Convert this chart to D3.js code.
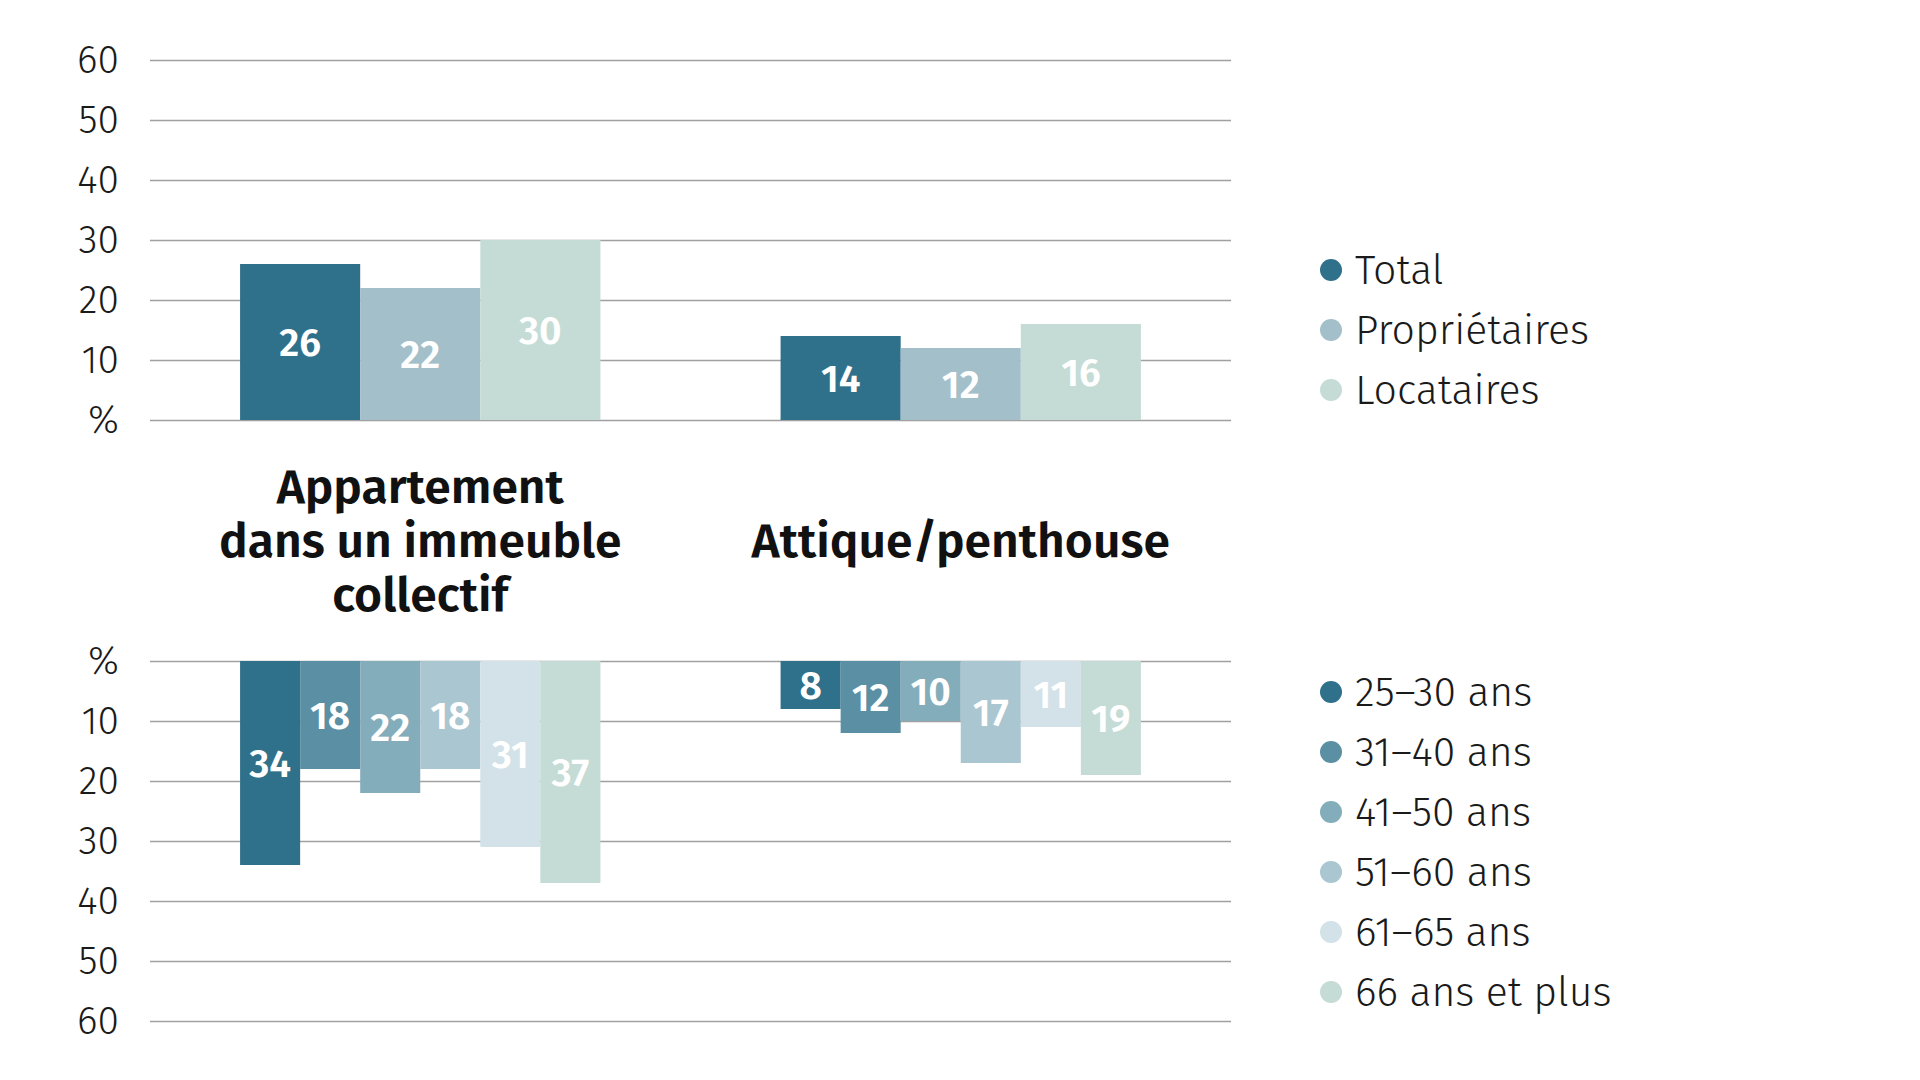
<!DOCTYPE html>
<html lang="fr">
<head>
<meta charset="utf-8">
<script src="https://cdn.jsdelivr.net/npm/d3@7"></script>
<style>
    html, body { margin: 0; padding: 0; background: #fff; }
    svg { display: block; font-family: "Fira Sans", "Open Sans", "Noto Sans", sans-serif; }
    .tick text { font-family: "Fira Sans", "Open Sans", "Noto Sans", sans-serif; font-size: 39px; font-weight: 300; fill: #1a1a1a; }
    .bar-label { font-size: 39px; font-weight: 600; fill: #fff; }
    .group-title { font-size: 48px; font-weight: 600; fill: #111; }
    .legend text { font-size: 41px; font-weight: 300; fill: #1a1a1a; }
</style>
</head>
<body>
<svg id="chart"></svg>
<script>
const groupNames = ['Appartement dans un immeuble collectif', 'Attique/penthouse'];
const groupTitleLines = [['Appartement', 'dans un immeuble', 'collectif'], ['Attique/penthouse']];

const tenureSeries = ['Total', 'Propriétaires', 'Locataires'];
const tenureValues = [[26, 22, 30], [14, 12, 16]];
const tenureColors = ['#2f718a', '#a3bfca', '#c5dcd6'];

const ageSeries = ['25–30 ans', '31–40 ans', '41–50 ans', '51–60 ans', '61–65 ans', '66 ans et plus'];
const ageValues = [[34, 18, 22, 18, 31, 37], [8, 12, 10, 17, 11, 19]];
const ageColors = ['#2f718a', '#5b8fa3', '#84adbb', '#aac6d1', '#d3e2e8', '#c5dcd6'];

const tickValues = [0, 10, 20, 30, 40, 50, 60];

class SplitBarChart {
    constructor() {
        this.width = 1920;
        this.height = 1080;
        this.plotLeft = 150;
        this.plotRight = 1231;

        this.svg = d3.select('#chart')
            .attr('width', this.width)
            .attr('height', this.height);

        this.x = d3.scaleBand()
            .domain(groupNames)
            .range([this.plotLeft, this.plotRight])
            .paddingInner(1 / 3)
            .paddingOuter(1 / 6);

        this.drawPanel({
            series: tenureSeries,
            values: tenureValues,
            colors: tenureColors,
            y: d3.scaleLinear().domain([0, 60]).range([420, 60]),
            legendTop: 270
        });

        this.drawPanel({
            series: ageSeries,
            values: ageValues,
            colors: ageColors,
            y: d3.scaleLinear().domain([0, 60]).range([661, 1021]),
            legendTop: 692
        });

        this.drawTitles();
    }

    drawPanel(cfg) {
        const g = this.svg.append('g');
        const y = cfg.y;

        const axis = d3.axisLeft(y)
            .tickValues(tickValues)
            .tickSize(-(this.plotRight - this.plotLeft))
            .tickPadding(31)
            .tickFormat(d => d === 0 ? '%' : d);

        const axisG = g.append('g')
            .attr('transform', `translate(${this.plotLeft},0)`)
            .call(axis)
            .attr('font-family', null)
            .attr('font-size', null);
        axisG.select('.domain').remove();
        axisG.selectAll('.tick line')
            .attr('stroke', '#a0a0a0')
            .attr('stroke-width', 1.5);
        axisG.selectAll('.tick text')
            .attr('dy', '0.31em');

        const inner = d3.scaleBand()
            .domain(cfg.series)
            .range([0, this.x.bandwidth()]);

        const rows = groupNames.map((name, gi) => cfg.series.map((s, si) => ({
            group: name, series: s, value: cfg.values[gi][si], color: cfg.colors[si]
        }))).flat();

        const bars = g.selectAll('.bar')
            .data(rows)
            .enter().append('g')
            .attr('class', 'bar');

        bars.append('rect')
            .attr('x', d => this.x(d.group) + inner(d.series))
            .attr('width', inner.bandwidth())
            .attr('y', d => Math.min(y(0), y(d.value)))
            .attr('height', d => Math.abs(y(d.value) - y(0)))
            .attr('fill', d => d.color);

        bars.append('text')
            .attr('class', 'bar-label')
            .attr('text-anchor', 'middle')
            .attr('x', d => this.x(d.group) + inner(d.series) + inner.bandwidth() / 2)
            .attr('y', d => (y(0) + y(d.value)) / 2)
            .attr('dy', '0.36em')
            .text(d => d.value);

        const legend = g.append('g').attr('class', 'legend');
        const item = legend.selectAll('g')
            .data(cfg.series)
            .enter().append('g')
            .attr('transform', (d, i) => `translate(1331,${cfg.legendTop + i * 60})`);

        item.append('circle')
            .attr('r', 11)
            .attr('fill', (d, i) => cfg.colors[i]);

        item.append('text')
            .attr('x', 24)
            .attr('dy', '0.34em')
            .text(d => d);
    }

    drawTitles() {
        const lineHeight = 54;
        groupNames.forEach((name, gi) => {
            const lines = groupTitleLines[gi];
            const cx = this.x(name) + this.x.bandwidth() / 2;
            const t = this.svg.append('text')
                .attr('class', 'group-title')
                .attr('text-anchor', 'middle');
            lines.forEach((line, li) => {
                t.append('tspan')
                    .attr('x', cx)
                    .attr('y', 541 + (li - (lines.length - 1) / 2) * lineHeight)
                    .attr('dy', '0.34em')
                    .text(line);
            });
        });
    }
}

document.addEventListener('DOMContentLoaded', () => {
    new SplitBarChart();
});
</script>
</body>
</html>
